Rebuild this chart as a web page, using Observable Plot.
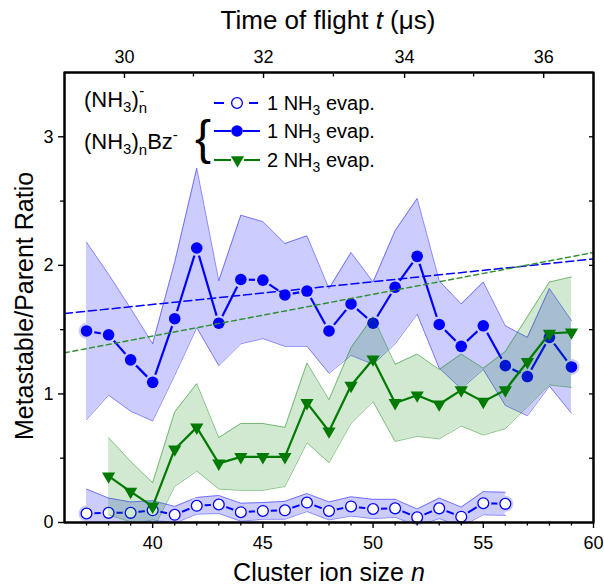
<!DOCTYPE html>
<html><head><meta charset="utf-8">
<script src="https://cdn.jsdelivr.net/npm/d3@7"></script>
<script src="https://cdn.jsdelivr.net/npm/@observablehq/plot@0.6"></script>
<style>
body{margin:0;background:#fff}
#chart{position:relative;width:604px;height:587px}
</style>
</head><body><div id="chart"></div>
<script>
// ---------- data ----------
const nOpen = [37,38,39,40,41,42,43,44,45,46,47,48,49,50,51,52,53,54,55,56];
const openRatio = [0.07,0.075,0.075,0.095,0.06,0.13,0.14,0.08,0.09,0.095,0.155,0.09,0.125,0.105,0.11,0.04,0.11,0.045,0.15,0.145];
const openErr = [0.19,0.115,0.085,0.075,0.065,0.065,0.07,0.07,0.065,0.07,0.07,0.07,0.075,0.075,0.07,0.065,0.08,0.075,0.09,0.09];

const nBz1 = [37,38,39,40,41,42,43,44,45,46,47,48,49,50,51,52,53,54,55,56,57,58,59];
const bz1Ratio = [1.49,1.46,1.265,1.09,1.585,2.135,1.55,1.89,1.885,1.77,1.80,1.49,1.70,1.55,1.83,2.07,1.54,1.37,1.53,1.22,1.135,1.44,1.21];
const bz1Err = [0.69,0.47,0.40,0.30,0.44,0.62,0.33,0.50,0.455,0.40,0.43,0.33,0.40,0.32,0.44,0.45,0.34,0.33,0.34,0.31,0.305,0.38,0.36];

const nBz2 = [38,39,40,41,42,43,44,45,46,47,48,49,50,51,52,53,54,55,56,57,58,59];
const bz2Ratio = [0.36,0.24,0.125,0.57,0.74,0.46,0.51,0.51,0.51,0.93,0.71,1.065,1.27,0.93,0.99,0.92,1.03,0.94,1.03,1.25,1.47,1.48];
const bz2Err = [0.30,0.235,0.185,0.29,0.34,0.20,0.26,0.26,0.23,0.31,0.245,0.295,0.33,0.30,0.32,0.27,0.28,0.26,0.30,0.35,0.40,0.43];

// linear fits (dashed), end points
const fitN = [36, 60];
const fitBz1 = [1.625, 2.05];
const fitBz2 = [1.32, 2.10];

// axes
const xDomain = [36, 60];
const yDomain = [0, 3.5];
const xMajorTicks = [40,45,50,55,60];
const xMinorTicks = [37,38,39,41,42,43,44,46,47,48,49,51,52,53,54,56,57,58,59];
const yMajorTicks = [0,1,2,3];
const yMinorTicks = [0.5,1.5,2.5];
const yRightTicks = [0.5,1,1.5,2,2.5,3];
// top axis: time of flight labels and their positions on the n axis
const topTimeLabels = [30,32,34,36];
const topTimeN = [38.72,45.03,51.43,57.74];
const topMinorN = [41.85,48.2,54.56];

// ---------- tables ----------
const openRows = nOpen.map((n,i)=>({n, v: openRatio[i], lo: openRatio[i]-openErr[i], hi: openRatio[i]+openErr[i]}));
const bz1Rows = nBz1.map((n,i)=>({n, v: bz1Ratio[i], lo: bz1Ratio[i]-bz1Err[i], hi: bz1Ratio[i]+bz1Err[i]}));
const bz2Rows = nBz2.map((n,i)=>({n, v: bz2Ratio[i], lo: bz2Ratio[i]-bz2Err[i], hi: bz2Ratio[i]+bz2Err[i]}));
const fitRows = fitN.map((n,i)=>({n, b1: fitBz1[i], b2: fitBz2[i]}));

const BLUE = "#0000ff", GREEN = "#007a00", FITGREEN = "#2f8f2f", BLUEBAND = "#ccccff";
const sqrt3 = Math.sqrt(3);
const triangleDown = {draw(ctx, size){
  const y = Math.sqrt(size / (sqrt3 * 3));
  ctx.moveTo(0, 2*y); ctx.lineTo(-sqrt3*y, -y); ctx.lineTo(sqrt3*y, -y); ctx.closePath();
}};

function band(rows, color, fo){
  return [
    Plot.areaY(rows, {x:"n", y1:"lo", y2:"hi", fill: color, fillOpacity: fo, clip: true}),
    Plot.line(rows, {x:"n", y:"lo", stroke: color, strokeOpacity: 0.5, strokeWidth: 0.9, clip: true}),
    Plot.line(rows, {x:"n", y:"hi", stroke: color, strokeOpacity: 0.5, strokeWidth: 0.9, clip: true})
  ];
}

const plot = Plot.plot({
  width: 604, height: 587,
  marginLeft: 64, marginRight: 11, marginTop: 72, marginBottom: 65,
  style: {fontFamily: "'Liberation Sans', Arial, sans-serif", fontSize: "18px", color: "#000", background: "white", overflow: "visible"},
  x: {domain: xDomain},
  y: {domain: yDomain},
  marks: [
    ...band(openRows, BLUE, 0.2),
    Plot.line(openRows, {x:"n", y:"v", stroke: BLUE, strokeWidth: 2}),
    Plot.dot(openRows, {x:"n", y:"v", r: 8, fill: BLUEBAND}),
    Plot.dot(openRows, {x:"n", y:"v", r: 5.4, fill: "white", stroke: BLUE, strokeWidth: 1.3}),
    ...band(bz1Rows, BLUE, 0.2),
    Plot.line(bz1Rows, {x:"n", y:"v", stroke: BLUE, strokeWidth: 2.2}),
    Plot.dot(bz1Rows, {x:"n", y:"v", r: 8, fill: BLUEBAND}),
    Plot.dot(bz1Rows, {x:"n", y:"v", r: 5.8, fill: BLUE}),
    ...band(bz2Rows, "#008000", 0.18),
    Plot.line(bz2Rows, {x:"n", y:"v", stroke: GREEN, strokeWidth: 2.2}),
    Plot.dot(bz2Rows, {x:"n", y:"v", r: 4.9, symbol: triangleDown, fill: GREEN}),
    Plot.line(fitRows, {x:"n", y:"b1", stroke: BLUE, strokeWidth: 1.5, strokeDasharray: "8,4", clip: true}),
    Plot.line(fitRows, {x:"n", y:"b2", stroke: FITGREEN, strokeWidth: 1.4, strokeDasharray: "5,3.5", clip: true}),
    // plot box
    Plot.frame({stroke: "#000", strokeWidth: 2}),
    Plot.ruleX(xDomain, {stroke: "#000", strokeWidth: 2}),
    Plot.ruleY(yDomain, {stroke: "#000", strokeWidth: 2}),
    Plot.axisX(xMajorTicks, {anchor: "bottom", tickSize: 6, tickPadding: 8, tickFormat: d => String(d), label: null, strokeWidth: 1.4}),
    Plot.axisX(xMinorTicks, {anchor: "bottom", tickSize: 3.5, tickFormat: () => "", label: null, strokeWidth: 1.3}),
    Plot.axisY(yMajorTicks, {anchor: "left", tickSize: 6, tickPadding: 5, tickFormat: d => String(d), label: null, strokeWidth: 1.4}),
    Plot.axisY(yMinorTicks, {anchor: "left", tickSize: 4, tickFormat: () => "", label: null, strokeWidth: 1.3}),
    Plot.axisY(yRightTicks, {anchor: "right", tickSize: -5, tickFormat: () => "", label: null, strokeWidth: 1.3}),
    Plot.axisX(topTimeN, {anchor: "top", tickSize: -5, tickPadding: 15, tickFormat: d => String(topTimeLabels[topTimeN.indexOf(d)]), label: null, strokeWidth: 1.4}),
    Plot.axisX(topMinorN, {anchor: "top", tickSize: -3.5, tickFormat: () => "", label: null, strokeWidth: 1.3})
  ]
});
document.getElementById("chart").appendChild(plot);

// ---------- titles and legend ----------
const svg = d3.select(plot);
const FONT = "'Liberation Sans', Arial, sans-serif";
function txt(x, y, size){
  return svg.append("text").attr("x", x).attr("y", y).attr("fill", "#000").attr("text-anchor", "start")
    .style("font-family", FONT).style("font-size", size + "px");
}
// top title
{
  const t = txt(328, 29, 26).attr("text-anchor", "middle");
  t.append("tspan").text("Time of flight ");
  t.append("tspan").style("font-style", "italic").text("t");
  t.append("tspan").text(" (\u03bcs)");
}
// bottom title
{
  const t = txt(329, 581, 25).attr("text-anchor", "middle");
  t.append("tspan").text("Cluster ion size ");
  t.append("tspan").style("font-style", "italic").text("n");
}
// y title
svg.append("text").attr("transform", "translate(33,306) rotate(-90)").attr("text-anchor", "middle")
  .attr("fill", "#000").style("font-family", FONT).style("font-size", "25px").text("Metastable/Parent Ratio");

// species labels
function sub(t, s, size, dy){ return t.append("tspan").attr("dy", dy).style("font-size", size + "px").text(s); }
{
  const t = txt(84, 107, 22);
  t.append("tspan").text("(NH");
  sub(t, "3", 15, 5);
  sub(t, ")", 22, -5);
  sub(t, "n", 15, 6);
  sub(t, "-", 15, -17).attr("dx", -8);
}
{
  const t = txt(84, 149, 22);
  t.append("tspan").text("(NH");
  sub(t, "3", 15, 5);
  sub(t, ")", 22, -5);
  sub(t, "n", 15, 6);
  sub(t, "Bz", 22, -6);
  sub(t, "-", 15, -9);
}
// brace
txt(195, 154, 48).text("{");

// legend rows
const rows = [
  {y: 103, kind: "open", segs: [[214,224],[249,258]]},
  {y: 131, kind: "fill", segs: [[214,231],[243,260]]},
  {y: 160, kind: "tri",  segs: [[214,231],[244,260]]}
];
rows.forEach((r) => {
  const col = r.kind === "tri" ? GREEN : BLUE;
  r.segs.forEach(s => svg.append("line").attr("x1", s[0]).attr("x2", s[1]).attr("y1", r.y).attr("y2", r.y)
    .attr("stroke", col).attr("stroke-width", 2));
  if (r.kind === "open") svg.append("circle").attr("cx", 237).attr("cy", r.y).attr("r", 5.4).attr("fill", "white").attr("stroke", BLUE).attr("stroke-width", 1.3);
  else if (r.kind === "fill") svg.append("circle").attr("cx", 237).attr("cy", r.y).attr("r", 5.8).attr("fill", BLUE);
  else svg.append("path").attr("transform", `translate(237.5,${r.y})`).attr("fill", GREEN)
    .attr("d", d3.symbol(triangleDown, 4.9*4.9*Math.PI)());
  const t = txt(267, r.y + 7, 20);
  t.append("tspan").text((r.kind === "tri" ? "2" : "1") + " NH");
  sub(t, "3", 14, 5);
  sub(t, " evap.", 20, -5);
});
</script>
</body></html>
